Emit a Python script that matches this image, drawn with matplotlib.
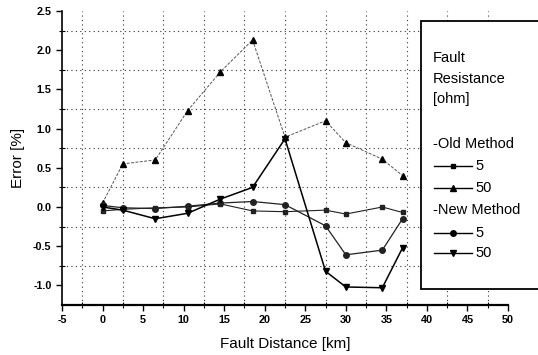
import matplotlib
matplotlib.use("Agg")
import matplotlib.pyplot as plt
from matplotlib.lines import Line2D
from matplotlib.patches import Rectangle
import numpy as np

plt.rcParams['font.family'] = ['Liberation Sans', 'DejaVu Sans']

distance = [0, 2.5, 6.5, 10.5, 14.5, 18.5, 22.5, 27.5, 30, 34.5, 37]
old_5 = [-0.05, -0.03, -0.01, 0.0, 0.04, -0.05, -0.06, -0.04, -0.09, 0.0, -0.07]
old_50 = [0.05, 0.55, 0.60, 1.23, 1.72, 2.13, 0.89, 1.10, 0.82, 0.61, 0.40]
new_5 = [0.02, -0.01, -0.02, 0.01, 0.05, 0.07, 0.03, -0.24, -0.61, -0.55, -0.15]
new_50 = [0.0, -0.04, -0.15, -0.08, 0.10, 0.25, 0.87, -0.82, -1.02, -1.03, -0.52]

xticks = [-5, 0, 5, 10, 15, 20, 25, 30, 35, 40, 45, 50]
yticks = [-1.0, -0.5, 0.0, 0.5, 1.0, 1.5, 2.0, 2.5]

W, H = 538, 355
fig = plt.figure(figsize=(W / 100, H / 100), dpi=100)
ax = fig.add_axes([62 / W, 1 - 305 / H, (508 - 62) / W, (305 - 11) / H])

ax.plot(distance, old_5, color='#222222', lw=0.8, marker='s', ms=3.5, zorder=3)
ax.plot(distance, old_50, color='#555555', lw=0.7, ls=(0, (3, 1.5)), marker='^', ms=4.5,
        mfc='black', mec='black', zorder=3)
ax.plot(distance, new_5, color='#222222', lw=0.9, marker='o', ms=4, zorder=3)
ax.plot(distance, new_50, color='black', lw=1.1, marker='v', ms=5, zorder=3)

ax.set_xlim(-5, 50)
ax.set_ylim(-1.25, 2.5)
ax.set_xticks(xticks)
ax.set_xticklabels([str(t) for t in xticks])
ax.set_yticks(yticks)
ax.set_yticklabels(['%.1f' % t for t in yticks])
ax.set_xticks(np.arange(-2.5, 50, 5), minor=True)
ax.set_yticks(np.arange(-1.0 - 0.25, 2.5, 0.5)[1:], minor=True)
ax.grid(which='minor', color='#333333', ls=(0, (1, 3)), lw=0.8)
ax.grid(which='major', visible=False)
for s in ['top', 'right']:
    ax.spines[s].set_visible(False)
ax.spines['left'].set_linewidth(1.2)
ax.spines['bottom'].set_linewidth(1.6)
ax.tick_params(which='major', direction='out', length=4, width=1, labelsize=7.8)
ax.tick_params(which='minor', direction='inout', length=4, width=0.8)
for lab in ax.get_xticklabels() + ax.get_yticklabels():
    lab.set_fontweight('bold')

ax.set_xlabel('Fault Distance [km]', fontsize=11, labelpad=8)
ax.set_ylabel('Error [%]', fontsize=11, labelpad=6)

# legend box
box = Rectangle((421 / W, 1 - 289 / H), 130 / W, (289 - 21) / H, transform=fig.transFigure,
                facecolor='white', edgecolor='black', lw=1.3, zorder=10)
fig.add_artist(box)

def ftext(x, y, s):
    fig.text(x / W, 1 - y / H, s, fontsize=10.5, va='center', ha='left', zorder=11)

ftext(433, 58, 'Fault')
ftext(433, 79, 'Resistance')
ftext(433, 99, '[ohm]')
ftext(433, 144, '-Old Method')
ftext(433, 210, '-New Method')

entries = [(166, 's', 3.5, '5'), (188, '^', 4.5, '50'), (233, 'o', 4, '5'), (253, 'v', 5, '50')]
for y, m, ms, lab in entries:
    yy = 1 - y / H
    fig.add_artist(Line2D([434 / W, 472 / W], [yy, yy], transform=fig.transFigure,
                          color='black', lw=1.0, zorder=11))
    fig.add_artist(Line2D([453 / W], [yy], transform=fig.transFigure, color='black',
                          marker=m, ms=ms, zorder=12))
    ftext(475, y, lab)

fig.savefig('out.png', dpi=100)
